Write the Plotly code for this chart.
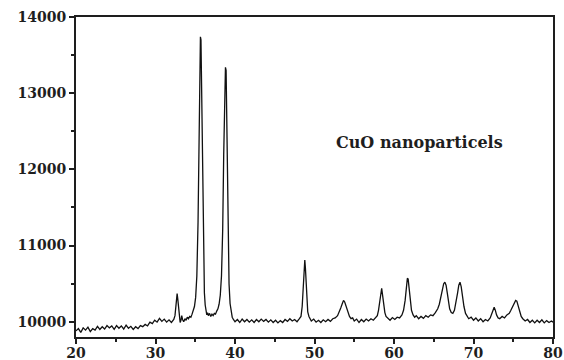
import plotly.graph_objects as go

# XRD pattern of CuO nanoparticles (2-theta in degrees, intensity in counts)
two_theta = [
    20.0, 20.3, 20.6, 20.9, 21.2, 21.5, 21.8, 22.1, 22.4, 22.7, 23.0, 23.3, 23.6, 23.9,
    24.2, 24.5, 24.8, 25.1, 25.4, 25.7, 26.0, 26.3, 26.6, 26.9, 27.2, 27.5, 27.8, 28.1,
    28.4, 28.7, 29.0, 29.3, 29.6, 29.9, 30.2, 30.5, 30.8, 31.1, 31.4, 31.7, 32.0, 32.3,
    32.45, 32.55, 32.65, 32.72, 32.8, 32.9, 33.0, 33.1, 33.2, 33.3, 33.4, 33.55, 33.7,
    33.85, 34.0, 34.15, 34.3, 34.45, 34.6, 34.75, 34.9, 35.05, 35.2, 35.35, 35.45, 35.55,
    35.65, 35.72, 35.8, 35.88, 35.96, 36.05, 36.15, 36.25, 36.35, 36.45, 36.55, 36.65,
    36.8, 36.95, 37.1, 37.25, 37.4, 37.55, 37.7, 37.85, 38.0, 38.15, 38.3, 38.45, 38.58,
    38.7, 38.8, 38.88, 38.96, 39.05, 39.15, 39.25, 39.38, 39.5, 39.65, 39.8, 40.0,
    40.3, 40.6, 40.9, 41.2, 41.5, 41.8, 42.1, 42.4, 42.7, 43.0, 43.3, 43.6, 43.9, 44.2,
    44.5, 44.8, 45.1, 45.4, 45.7, 46.0, 46.3, 46.6, 46.9, 47.2, 47.5, 47.8, 48.1,
    48.3, 48.45, 48.6, 48.7, 48.78, 48.86, 48.95, 49.05, 49.15, 49.3, 49.45,
    49.6, 49.9, 50.2, 50.5, 50.8, 51.1, 51.4, 51.7, 52.0, 52.3, 52.6,
    52.9, 53.1, 53.3, 53.5, 53.65, 53.8, 54.0, 54.2, 54.4, 54.6, 54.8,
    55.0, 55.3, 55.6, 55.9, 56.2, 56.5, 56.8, 57.1, 57.4, 57.7,
    57.9, 58.05, 58.2, 58.35, 58.45, 58.55, 58.7, 58.85, 59.0,
    59.2, 59.5, 59.8, 60.1, 60.4, 60.7, 61.0,
    61.2, 61.4, 61.55, 61.68, 61.78, 61.9, 62.05, 62.2, 62.4, 62.6,
    62.8, 63.1, 63.4, 63.7, 64.0, 64.3, 64.6, 64.9, 65.2, 65.5,
    65.7, 65.9, 66.1, 66.25, 66.4, 66.55, 66.7, 66.85, 67.0, 67.2, 67.4, 67.6,
    67.8, 68.0, 68.15, 68.3, 68.45, 68.6, 68.8, 69.0, 69.2,
    69.4, 69.7, 70.0, 70.3, 70.6, 70.9, 71.2, 71.5, 71.8, 72.1,
    72.3, 72.45, 72.6, 72.75, 72.9, 73.1,
    73.3, 73.6, 73.9, 74.2, 74.5,
    74.7, 74.9, 75.1, 75.3, 75.45, 75.6, 75.8, 76.0, 76.2,
    76.5, 76.8, 77.1, 77.4, 77.7, 78.0, 78.3, 78.6, 78.9, 79.2, 79.5, 79.8, 80.0,
]

intensity = [
    9880, 9910, 9860, 9920, 9890, 9930, 9870, 9910, 9890, 9940, 9900, 9935, 9905, 9950,
    9920, 9945, 9900, 9950, 9915, 9945, 9905, 9955, 9915, 9940, 9900, 9935, 9910, 9950,
    9935, 9965, 9945, 9995, 9975, 10020, 9995, 10045, 10005, 10035, 9995, 10025, 9990, 10030,
    10080, 10200, 10340, 10370, 10300, 10150, 10040, 9990, 10020, 10080, 10030, 10000, 10040,
    10020, 10060, 10040, 10070, 10060, 10100, 10140, 10200, 10320, 10600, 11300, 12300, 13200,
    13740, 13700, 13100, 12200, 11300, 10700, 10380, 10220, 10130, 10090, 10120, 10080,
    10110, 10070, 10100, 10080, 10110, 10100, 10140, 10170, 10230, 10350, 10600, 11200, 12200,
    13000, 13340, 13300, 12700, 11800, 11000, 10500, 10240, 10120, 10060, 10030, 10000,
    10030, 9990, 10035, 10000, 10030, 9995, 10025, 9990, 10030, 10000, 10035, 10005, 10030, 9995,
    10025, 9990, 10020, 9985, 10015, 9990, 10030, 10005, 10040, 10010, 10030, 10000, 10040,
    10070, 10200, 10500, 10750, 10810, 10700, 10450, 10250, 10130, 10070, 10040,
    10010, 10035, 9995, 10020, 9990, 10025, 10000, 10030, 10005, 10040, 10050,
    10080, 10120, 10180, 10240, 10280, 10260, 10190, 10120, 10070, 10040, 10050,
    10010, 10035, 9990, 10030, 10000, 10035, 10010, 10040, 10020, 10060,
    10080, 10150, 10280, 10420, 10440, 10360, 10220, 10120, 10070,
    10050, 10020, 10055, 10030, 10060, 10050, 10090,
    10150, 10280, 10450, 10570, 10560, 10420, 10250, 10150, 10090, 10060,
    10080, 10040, 10070, 10045, 10080, 10060, 10090, 10080, 10120, 10170,
    10230, 10320, 10430, 10500, 10520, 10480, 10380, 10260, 10170, 10120, 10110, 10150,
    10250, 10380, 10480, 10520, 10460, 10330, 10200, 10110, 10070,
    10040, 10060, 10020, 10050, 10010, 10040, 10000, 10030, 10010, 10050,
    10100, 10160, 10190, 10150, 10090, 10050,
    10040, 10070, 10050, 10090, 10110,
    10150, 10200, 10250, 10280, 10270, 10210, 10130, 10070, 10040,
    10010, 10030, 9990, 10020, 9985, 10020, 9990, 10025, 9985, 10015, 9990, 10010, 9995,
]

x_ticks = [20, 30, 40, 50, 60, 70, 80]
y_ticks = [10000, 11000, 12000, 13000, 14000]
label_text = "CuO nanoparticels"
label_pos = (63.2, 12350)

FONT = "DejaVu Serif"
INK = "#1e1e1e"

fig = go.Figure()
fig.add_trace(go.Scatter(
    x=two_theta, y=intensity, mode="lines",
    line=dict(color="#111111", width=1.3),
    showlegend=False, hoverinfo="skip",
))

fig.add_annotation(
    x=label_pos[0], y=label_pos[1], text=label_text, showarrow=False,
    font=dict(family=FONT, size=16, color=INK, weight="bold"),
)

axis_common = dict(
    showgrid=False, zeroline=False, automargin=False,
    showline=True, linecolor=INK, linewidth=2, mirror=True,
    ticks="outside", ticklen=5, tickwidth=2, tickcolor=INK,
    tickformat="d",
    tickfont=dict(family=FONT, size=14, color=INK, weight="bold"),
)

fig.update_xaxes(
    range=[20, 80], tickvals=x_ticks, ticklabelstandoff=-3,
    minor=dict(dtick=5, ticks="outside", ticklen=3, tickwidth=1.5, tickcolor=INK),
    **axis_common,
)
fig.update_yaxes(
    range=[9800, 14000], tickvals=y_ticks,
    minor=dict(dtick=500, ticks="outside", ticklen=3, tickwidth=1.5, tickcolor=INK),
    **axis_common,
)

fig.update_layout(
    width=564, height=360,
    margin=dict(l=76, r=11, t=17, b=23),
    paper_bgcolor="white", plot_bgcolor="white",
)

# remove the page's default body margin so the figure fills the window exactly
fig.write_html(
    "out.html",
    config={"displayModeBar": False},
    post_script="document.body.style.margin='0';document.body.style.overflow='hidden';",
)
